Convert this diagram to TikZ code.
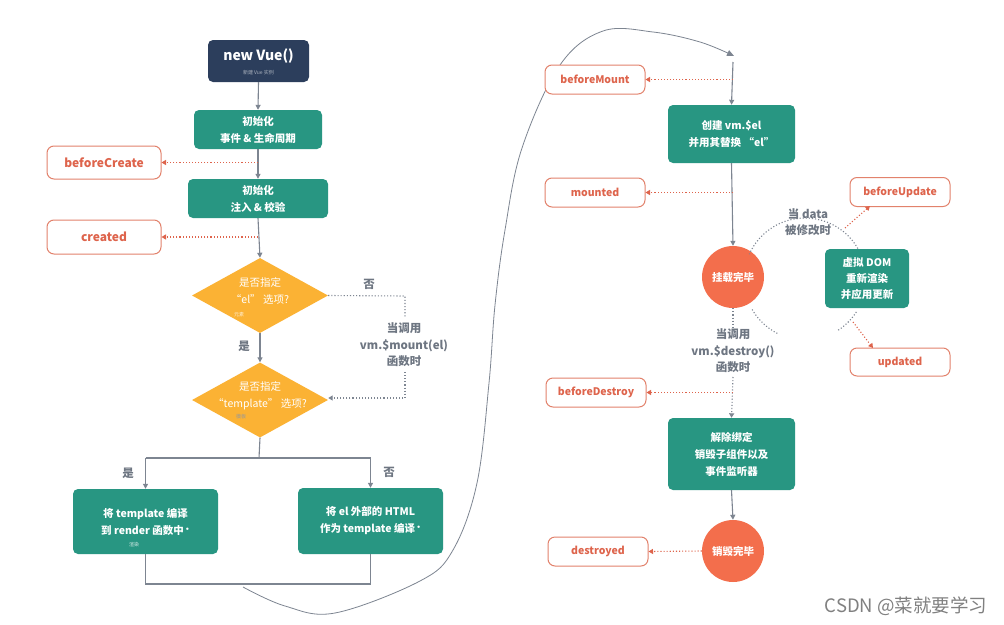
\documentclass[tikz,border=0pt]{standalone}
\usepackage{fontspec}
\setmainfont{Noto Sans CJK SC}
\usetikzlibrary{shapes.geometric,arrows.meta}
\definecolor{navy}{RGB}{44,62,92}
\definecolor{teal}{RGB}{40,150,130}
\definecolor{orng}{RGB}{251,178,52}
\definecolor{redc}{RGB}{243,110,76}
\definecolor{hook}{RGB}{222,100,76}
\definecolor{hookb}{RGB}{226,130,108}
\definecolor{lgrey}{RGB}{125,133,145}
\definecolor{tgrey}{RGB}{110,118,130}
\tikzset{
  box/.style={rectangle,rounded corners=5pt,fill=teal,text=white,align=center,
    font=\fontsize{10.5}{17}\selectfont\bfseries,inner sep=0pt},
  hookbox/.style={rectangle,rounded corners=7pt,draw=hookb,line width=1pt,fill=white,
    text=hook,font=\fontsize{10.5}{12}\selectfont\bfseries,minimum width=100pt,minimum height=29pt,inner sep=0pt},
  dia/.style={diamond,fill=orng,minimum width=136pt,minimum height=75pt,inner sep=0pt},
  circ/.style={circle,fill=redc,text=white,minimum size=62pt,inner sep=0pt,
    font=\fontsize{10.5}{12}\selectfont\bfseries},
  flow/.style={draw=lgrey,line width=1.1pt,-{Triangle[length=5pt,width=5pt]}},
  plain/.style={draw=lgrey,line width=1.1pt},
  hookline/.style={draw=hook,line width=1.1pt,dotted,-{Triangle[length=4.5pt,width=5pt]}},
  gdot/.style={draw=lgrey,line width=1.1pt,dotted},
  gdotarr/.style={draw=lgrey,line width=1.1pt,dotted,-{Triangle[length=4.5pt,width=5pt]}},
  lbl/.style={text=tgrey,font=\fontsize{11.5}{16.5}\selectfont\bfseries,align=center,inner sep=0pt},
  tiny/.style={font=\fontsize{5}{6}\selectfont,inner sep=0pt},
}
\begin{document}
\begin{tikzpicture}[x=1pt,y=-1pt]
\useasboundingbox (0,0) rectangle (1004,624);
\fill[white] (0,0) rectangle (1004,624);

% ---------- left column ----------
\node[box,fill=navy,minimum width=101pt,minimum height=42pt] (vue) at (258.5,61) {};
\node[text=white,font=\fontsize{14}{16}\selectfont\bfseries,inner sep=0pt] (vuet) at (258.5,56) {new Vue()};
\node[tiny,text=white!60!navy] (vues) at (258.5,73) {新建 Vue 实例};

\node[box,minimum width=128pt,minimum height=39pt] (init1) at (258,129.5) {初始化\\事件 \& 生命周期};
\node[box,minimum width=140pt,minimum height=39pt] (init2) at (258,198.5) {初始化\\注入 \& 校验};
\node[hookbox,minimum width=114pt,minimum height=33pt,font=\fontsize{12}{13}\selectfont\bfseries] (bc) at (104,162.5) {beforeCreate};
\node[hookbox,minimum width=114pt,minimum height=34pt,font=\fontsize{12}{13}\selectfont\bfseries] (cr) at (104,237) {created};

\node[dia] (d1) at (260,295.5) {};
\node[text=white,align=center,font=\fontsize{10.5}{17}\selectfont,inner sep=0pt] (d1t) at (260,291) {是否指定\\“el” 选项?};
\node[tiny,text=white!80!orng] (d1s) at (239,315) {元素};
\node[dia] (d2) at (260,400) {};
\node[text=white,align=center,font=\fontsize{10.5}{17}\selectfont,inner sep=0pt] (d2t) at (260,396) {是否指定\\“template” 选项?};
\node[tiny,text=white!60!black] (d2s) at (241,417) {模板};

\node[box,minimum width=145pt,minimum height=65pt] (bl) at (145.5,521.5) {将 template 编译\\到 render 函数中\,$^{\scriptscriptstyle\bullet}$};
\node[tiny,text=white!80!teal] (bls) at (134,545) {渲染};
\node[box,minimum width=145pt,minimum height=66pt] (br) at (370.5,521) {将 el 外部的 HTML\\作为 template 编译\,$^{\scriptscriptstyle\bullet}$};

\node[lbl] (no1) at (369,284) {否};
\node[lbl] (yes1) at (244,346) {是};
\node[lbl] (yes2) at (128,473) {是};
\node[lbl] (no2) at (389,472) {否};
\node[lbl] (mountl) at (404,345) {当调用\\vm.\$mount(el)\\函数时};

\draw[flow] (vue.south) -- (init1.north);
\draw[flow] (init1.south) -- (init2.north);
\draw[flow] (init2.south) -- (d1.north);
\draw[flow] (d1.south) -- (d2.north);
\draw[hookline] (init1.south |- bc.east) -- (bc.east);
\draw[hookline] (init2.south |- cr.east) -- (cr.east);

\coordinate (m1) at (405,296);
\coordinate (m2) at (405,318);
\coordinate (m3) at (405,372);
\coordinate (m4) at (405,398);
\draw[gdot] (d1.east) -- (m1) -- (m2);
\draw[gdotarr] (m3) -- (m4) -- (d2.east |- m4);

\coordinate (split) at (259,458);
\draw[plain] (d2.south) -- (split);
\draw[plain] (bl.north |- split) -- (br.north |- split);
\draw[flow] (bl.north |- split) -- (bl.north);
\draw[flow] (br.north |- split) -- (br.north);
\coordinate (join) at (259,584);
\draw[plain] (bl.south) -- (bl.south |- join) -- (br.south |- join) -- (br.south);

% curve to right column
\coordinate (cs) at (243,587);
\coordinate (ce) at (734,56);
\draw[draw=lgrey,line width=0.8pt,-{Triangle[length=7pt,width=6pt]}]
  plot[smooth,tension=0.6] coordinates {(cs) (285,606) (335,613) (420,581) (453,550) (477,483) (489,383) (495,305) (505,230) (522,148) (560,65) (603,31) (653,32) (700,42) (ce)};

% ---------- right column ----------
\coordinate (rtop) at (733,62);
\node[box,minimum width=127pt,minimum height=58pt] (mb) at (731.5,134) {创建 vm.\$el\\并用其替换 “el”};
\node[hookbox] (bm) at (595,79.5) {beforeMount};
\node[hookbox] (mt) at (595,192.5) {mounted};
\node[circ] (mc) at (733,277) {挂载完毕};
\node[box,minimum width=84pt,minimum height=59pt,font=\fontsize{10.5}{16}\selectfont\bfseries] (vd) at (867,278.5) {虚拟 DOM\\重新渲染\\并应用更新};
\node[hookbox] (bu) at (900,192) {beforeUpdate};
\node[hookbox,minimum height=28pt] (up) at (900,362) {updated};
\node[lbl] (datal) at (808,222) {当 data\\被修改时};

\draw[flow] (rtop) -- (mb.north);
\draw[hookline] (733,79.5) -- (bm.east);
\draw[flow] (mb.south) -- (mc.north);
\draw[hookline] (733,192.5) -- (mt.east);

% update cycle
\coordinate (cc) at (805,279);
\draw[gdot] (cc) ++(150:61) arc[start angle=150,end angle=117,radius=61];
\draw[gdot] (cc) ++(57:61) arc[start angle=57,end angle=32,radius=61];
\draw[gdot] (cc) ++(-30:61) arc[start angle=-30,end angle=-156,radius=61];
\coordinate (bus) at (845,228);
\coordinate (ups) at (853,322);
\draw[hookline] (bus) -- (870,206);
\draw[hookline] (ups) -- (873,348);

% destroy
\node[lbl] (destl) at (733,351) {当调用\\vm.\$destroy()\\函数时};
\node[box,minimum width=127pt,minimum height=72pt] (db) at (731.5,454) {解除绑定\\销毁子组件以及\\事件监听器};
\node[hookbox] (bd) at (596,392.5) {beforeDestroy};
\node[circ] (dc) at (733,551) {销毁完毕};
\node[hookbox] (ds) at (598,551.5) {destroyed};
\coordinate (dd1) at (733,330);
\coordinate (dd2) at (733,377);
\draw[gdot] (mc.south) -- (dd1);
\draw[gdotarr] (dd2) -- (db.north);
\draw[hookline] (733,392.5) -- (bd.east);
\draw[flow] (db.south) -- (dc.north);
\draw[hookline] (dc.west) -- (ds.east);

\node[text=black!50,font=\fontsize{18.5}{20}\selectfont,inner sep=0pt] (wm) at (906,606) {CSDN @菜就要学习};
\end{tikzpicture}
\end{document}
